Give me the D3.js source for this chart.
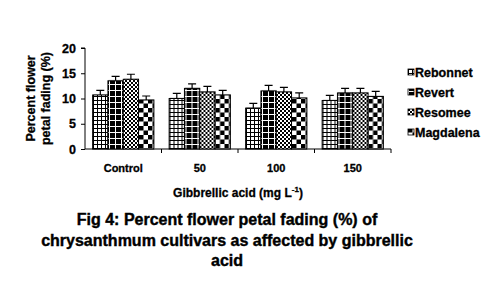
<!DOCTYPE html>
<html>
<head>
<meta charset="utf-8">
<script src="https://cdn.jsdelivr.net/npm/d3@7"></script>
<style>
  body { margin: 0; background: #fff; }
  text { font-family: Arial, "Liberation Sans", sans-serif; font-weight: bold; }
</style>
</head>
<body>
<div id="vis-container"></div>
<script>
const width = 495;
const height = 284;

// data
const categories = ["Control", "50", "100", "150"];
const cultivars = ["Rebonnet", "Revert", "Resomee", "Magdalena"];
const values = {
  Rebonnet:  [10.7, 10.0, 8.1, 9.6],
  Revert:    [13.5, 12.0, 11.5, 11.1],
  Resomee:   [13.8, 11.3, 11.3, 11.1],
  Magdalena: [9.7, 10.7, 10.1, 10.4]
};
const errors = {
  Rebonnet:  [0.9, 1.0, 0.95, 1.0],
  Revert:    [0.9, 0.9, 1.1, 0.9],
  Resomee:   [1.0, 1.1, 0.9, 0.9],
  Magdalena: [0.8, 0.9, 1.0, 1.0]
};
const yTicks = [0, 5, 10, 15, 20];

const margin = { left: 85, right: 104, top: 48, bottom: 135 };

const svg = d3.select("#vis-container")
  .append("svg")
  .attr("width", width)
  .attr("height", height);

// fill patterns
const defs = svg.append("defs");

let p = defs.append("pattern").attr("id", "pat0")
  .attr("patternUnits", "userSpaceOnUse").attr("width", 4).attr("height", 4);
p.append("rect").attr("width", 4).attr("height", 4).attr("fill", "#fff");
p.append("rect").attr("width", 4).attr("height", 1).attr("fill", "#000");
p.append("rect").attr("width", 1).attr("height", 4).attr("fill", "#000");

p = defs.append("pattern").attr("id", "pat1")
  .attr("patternUnits", "userSpaceOnUse").attr("width", 6).attr("height", 6);
p.append("rect").attr("width", 6).attr("height", 6).attr("fill", "#000");
p.append("rect").attr("width", 6).attr("height", 1).attr("fill", "#fff");
p.append("rect").attr("width", 1).attr("height", 6).attr("fill", "#fff");

p = defs.append("pattern").attr("id", "pat2")
  .attr("patternUnits", "userSpaceOnUse").attr("width", 4).attr("height", 4);
p.append("rect").attr("width", 4).attr("height", 4).attr("fill", "#fff");
p.append("rect").attr("width", 2).attr("height", 2).attr("fill", "#000");
p.append("rect").attr("x", 2).attr("y", 2).attr("width", 2).attr("height", 2).attr("fill", "#000");

p = defs.append("pattern").attr("id", "pat3")
  .attr("patternUnits", "userSpaceOnUse").attr("width", 9).attr("height", 9);
p.append("rect").attr("width", 9).attr("height", 9).attr("fill", "#fff");
p.append("rect").attr("width", 4.5).attr("height", 4.5).attr("fill", "#000");
p.append("rect").attr("x", 4.5).attr("y", 4.5).attr("width", 4.5).attr("height", 4.5).attr("fill", "#000");

const fills = ["url(#pat0)", "url(#pat1)", "url(#pat2)", "url(#pat3)"];

// scales
const xScale = d3.scaleBand()
  .domain(categories)
  .range([margin.left, width - margin.right]);

const xSub = d3.scaleBand()
  .domain(cultivars)
  .range([0, xScale.bandwidth()])
  .paddingOuter(0.5)
  .paddingInner(0);

const yScale = d3.scaleLinear()
  .domain([0, 20])
  .range([height - margin.bottom, margin.top]);

// y axis
svg.append("g")
  .attr("transform", `translate(${margin.left},0)`)
  .call(d3.axisLeft(yScale).tickValues(yTicks).tickSize(4).tickPadding(5))
  .call(g => g.select(".domain").attr("stroke", "#000").attr("d", `M-4,${yScale(20)}H0V${yScale(0)}`))
  .call(g => g.selectAll("text").attr("font-size", "12.5px").attr("fill", "#000")
    .attr("stroke", "#000").attr("stroke-width", 0.3));

// x axis (ticks at category boundaries)
const bottom = yScale(0);
const xAxis = svg.append("g");
xAxis.append("line")
  .attr("x1", margin.left).attr("x2", width - margin.right)
  .attr("y1", bottom).attr("y2", bottom)
  .attr("stroke", "#000");
xAxis.selectAll(".xtick")
  .data(categories)
  .join("line")
  .attr("x1", d => xScale(d) + xScale.bandwidth())
  .attr("x2", d => xScale(d) + xScale.bandwidth())
  .attr("y1", bottom).attr("y2", bottom + 4)
  .attr("stroke", "#000");
xAxis.selectAll(".xlab")
  .data(categories)
  .join("text")
  .attr("x", d => xScale(d) + xScale.bandwidth() / 2)
  .attr("y", bottom + 23)
  .attr("text-anchor", "middle")
  .attr("font-size", "11px")
  .attr("stroke", "#000").attr("stroke-width", 0.3)
  .text(d => d);

// bars
const groups = svg.selectAll(".grp")
  .data(categories)
  .join("g")
  .attr("transform", d => `translate(${xScale(d)},0)`);

cultivars.forEach((c, k) => {
  groups.append("rect")
    .attr("x", xSub(c) + 0.5)
    .attr("y", (d, i) => yScale(values[c][i]) - 1)
    .attr("width", xSub.bandwidth())
    .attr("height", (d, i) => bottom - yScale(values[c][i]) + 1)
    .attr("fill", "#c8c8c8");
  groups.append("rect")
    .attr("x", xSub(c))
    .attr("y", (d, i) => yScale(values[c][i]))
    .attr("width", xSub.bandwidth())
    .attr("height", (d, i) => bottom - yScale(values[c][i]))
    .attr("fill", fills[k])
    .attr("stroke", "#000")
    .attr("stroke-width", 1);
  // error bars (upper only)
  groups.append("path")
    .attr("d", (d, i) => {
      const cx = xSub(c) + xSub.bandwidth() / 2;
      const y1 = yScale(values[c][i]);
      const y2 = yScale(values[c][i] + errors[c][i]);
      return `M${cx},${y1}V${y2}M${cx - 4},${y2}H${cx + 4}`;
    })
    .attr("stroke", "#000")
    .attr("fill", "none")
    .attr("stroke-width", 1.2);
});

// y label
const yl = svg.append("text")
  .attr("transform", `translate(35,${(yScale(0) + yScale(20)) / 2}) rotate(-90)`)
  .attr("text-anchor", "middle")
  .attr("font-size", "12.5px")
  .attr("stroke", "#000").attr("stroke-width", 0.3);
yl.append("tspan").attr("x", 0).attr("y", 0).text("Percent flower");
yl.append("tspan").attr("x", 0).attr("y", 15).text("petal fading (%)");

// x title
const xt = svg.append("text")
  .attr("x", 238)
  .attr("y", 197)
  .attr("text-anchor", "middle")
  .attr("font-size", "12px")
  .attr("stroke", "#000").attr("stroke-width", 0.3);
xt.append("tspan").text("Gibbrellic acid (mg L");
xt.append("tspan").attr("dy", -5).attr("font-size", "8px").text("-1");
xt.append("tspan").attr("dy", 5).text(")");

// legend
const legend = svg.selectAll(".leg")
  .data(cultivars)
  .join("g")
  .attr("transform", (d, i) => `translate(408,${77 + i * 20})`);
legend.append("rect")
  .attr("x", 0).attr("y", -8)
  .attr("width", 6).attr("height", 6)
  .attr("fill", (d, i) => fills[i])
  .attr("stroke", "#000")
  .attr("stroke-width", 0.8);
legend.append("text")
  .attr("x", 7).attr("y", 0)
  .attr("font-size", "12.5px")
  .attr("stroke", "#000").attr("stroke-width", 0.3)
  .text(d => d);

// caption
const captionLines = [
  "Fig 4: Percent flower petal fading (%) of",
  "chrysanthmum cultivars as affected by gibbrellic",
  "acid"
];
svg.selectAll(".cap")
  .data(captionLines)
  .join("text")
  .attr("x", 227)
  .attr("y", (d, i) => 225 + i * 20.5)
  .attr("text-anchor", "middle")
  .attr("font-size", "16px")
  .attr("stroke", "#000").attr("stroke-width", 0.4)
  .text(d => d);
</script>
</body>
</html>
